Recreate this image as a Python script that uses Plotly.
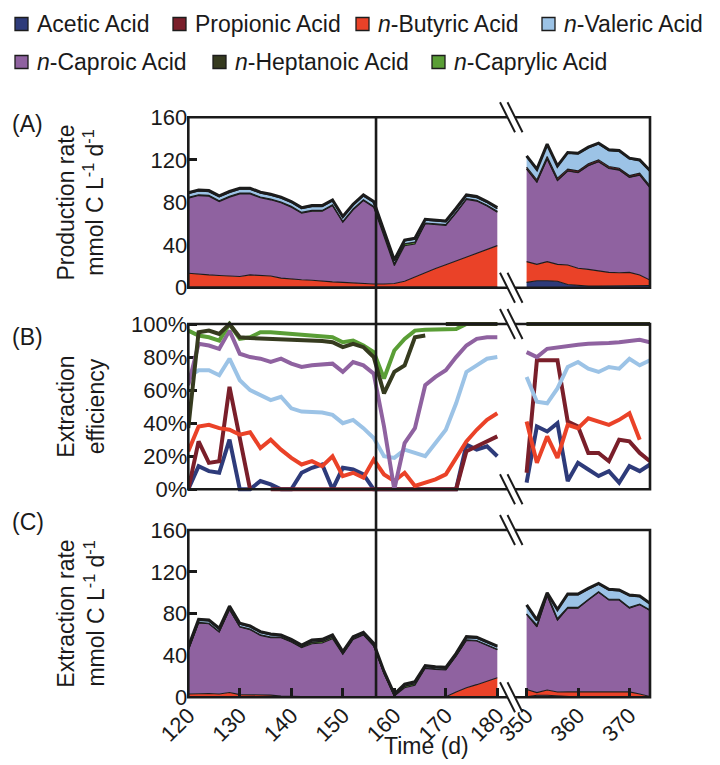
import plotly.graph_objects as go

W, H = 720, 765
def X(px): return px / W
def Y(py): return 1 - py / H

# ---------------- data ----------------
days_left = [120, 122, 124, 126, 128, 130, 132, 134, 136, 138, 140, 142, 144, 146, 148, 150,
             152, 154, 156, 158, 160, 162, 164, 166, 168, 170, 172, 174, 176, 178, 180]
days_right = [350, 352, 354, 356, 358, 360, 362, 364, 366, 368, 370, 372, 374]

# (A) production rate, mmol C L-1 d-1
prodA_acetic_L = [0.5]*31
prodA_propionic_L = [0.3]*31
prodA_butyric_L = [13, 12, 11.5, 11, 10.5, 10, 11.5, 11, 10.5, 8.5, 7.5, 7, 6.5, 5.5, 5, 4.5,
                   4, 3.3, 3, 3, 3.5, 5.5, 9.5, 14, 17.5, 21, 24.5, 28.5, 32, 35, 39]
prodA_caproic_L = [70.5, 74, 73.9, 69.4, 74, 77.6, 76.1, 72.9, 71.5, 70.7, 67.6, 62.4, 64.8, 65.8,
                   71.6, 56.5, 68.6, 78, 72.1, 45.2, 16.7, 33.5, 31.1, 45.5, 41.3, 36.9, 45.3,
                   53.8, 48.8, 41.1, 31.4]
prodA_caprylic_L = [0.5, 0.5, 0.5, 0.5, 0.5, 0.5, 0.5, 0.5, 0.5, 0.5, 0.5, 0.5, 0.5, 0.5, 0.5,
                    0.5, 0.5, 0.5, 0.5, 1.5, 1.5, 1.5, 1.5, 0.5, 0.5, 0.5, 0.5, 0.5, 0.5, 0.5, 0.5]
prodA_valeric_L = [3.5, 3.5, 3.5, 3.5, 3.5, 3.5, 3.5, 3.5, 3.5, 3.5, 3.5, 3.5, 3.5, 3.5, 3.5,
                   3.5, 3.5, 3.5, 3.5, 2.5, 2.5, 2.5, 2.5, 2.5, 2.5, 2.5, 2.5, 2.5, 2.5, 2.5, 2.5]
prodA_heptanoic_L = [1]*31

prodA_acetic_R = [5, 6.5, 6.5, 6, 3, 2, 1.5, 1.5, 1.5, 1.5, 1.5, 2, 2]
prodA_propionic_R = [1.5, 2, 2, 2, 1.5, 1.5, 1.5, 1.5, 1.5, 1.5, 1.5, 1.5, 1.5]
prodA_butyric_R = [19.5, 15.4, 18, 15.9, 18.3, 16.2, 15.7, 14.2, 12.9, 12.6, 12.9, 9.9, 5.2]
prodA_caproic_R = [86.9, 77.1, 96.4, 78.6, 88.2, 89.7, 97.3, 102.5, 97.6, 96.3, 89.1, 93.8, 86.6]
prodA_caprylic_R = [0.3]*13
prodA_valeric_R = [9.8, 9.2, 10.8, 10.8, 14.9, 15.8, 14.9, 14.9, 14.9, 15.8, 15.5, 11.7, 13.6]
prodA_heptanoic_R = [0.8]*13

# (B) extraction efficiency, %
effB_acetic_L = [0, 14, 11, 10, 30, 0, 0, 5, 3, 0, 0, 10, 13, 15, 0, 13, 12, 9, 0, 0, 0, 0, 0,
                 0, 0, 0, 0, 27, 24, 26, 20]
effB_propionic_L = [0, 29, 16, 17, 62, 30, 0, None, 0, 0, 0, 0, 0, 0, 0, 0, 0, 0, 0, 0, 0, 0, 0,
                    0, 0, 0, 0, 23, 26, 29, 32]
effB_butyric_L = [23, 38, 39, 37, 36, 33, 34.5, 25, 30, 24, 19, 15, 17, 14, 20, 8, 10, 7, 18, 9,
                  5, 10, 2, 4, 6, 9, 19, 29, 36, 42, 46]
effB_valeric_L = [68, 72, 72, 69, 79, 66, 60, 57, 54, 56, 49, 47, 47, 46.5, 45, 40, 42, 37, 31,
                  20, 19, 24, 22, 20, 28, 36, 52, 71, 75, 79, 80]
effB_caproic_L = [63, 88, 87, 85, 96, 82, 80, 79, 77, 79, 76, 74, 75, 75.5, 76, 71, 77, 75, 70,
                  38, 0, 28, 37, 63, 68, 72, 80, 87, 91, 92, 92]
effB_heptanoic_L = [37, 95, 96, 94, 100, 92, 91.5, 91.3, 91, 90.7, 90.5, 90, 89.7, 89.7, 89, 86,
                    88, 86, 80, 58, 71, 75, 92, 93, None, 100, 100, 100, 100, 100, 100]
effB_caprylic_L = [96, 93, 92, 90, 100, 91, 92, 95, 95, 94.5, 94, 93.5, 93.5, 93, 92, 89, 90, 87,
                   83, 67, 84, 91, 96, 96.5, 96.5, 96.5, 97, 100, 100, 100, 100]

effB_acetic_R = [4, 38, 35, 40, 5, 16, 12, 8, 11, 4, 14, 11, 15]
effB_propionic_R = [10, 78, 78, 78, 41, 38, 22, 22, 17, 30, 29, 22, 17]
effB_butyric_R = [41, 16, 32, 19, 39, 37, 43, 41, 39, 42, 46, 30, None]
effB_valeric_R = [68, 53, 52, 61, 74, 77, 73, 71, 74, 73, 79, 75, 78]
effB_caproic_R = [83, 80, 85, 86, 87, 87.5, 88, 88, 88.5, 89, 89.5, 90.5, 89]
effB_heptanoic_R = [100]*13
effB_caprylic_R = [100]*13

# (C) extraction rate, mmol C L-1 d-1
extC_acetic_L = [0.1]*31
extC_propionic_L = [0.1]*31
extC_butyric_L = [3, 3.5, 3.5, 3, 4.5, 2.5, 2.5, 2, 2, 1, 0.5, 0.5, 0.5, 0.5, 0.5, 0.5, 0.5, 0.5,
                  0.5, 0.5, 0.3, 0.5, 0.5, 0.5, 0.5, 0.5, 5, 9, 12, 15, 18.5]
extC_caproic_L = [41.7, 67.4, 66.7, 59.3, 79.1, 64.6, 62, 57.1, 54.9, 55.9, 52.3, 46.8, 50.6, 51.3,
                  55.4, 40.5, 54.8, 59, 48.4, 21.8, 0.7, 8.5, 10.8, 27.1, 26.1, 25.5, 34.3, 45.3,
                  41.7, 34.5, 26.8]
extC_caprylic_L = [0.5, 0.5, 0.5, 0.5, 0.5, 0.5, 0.5, 0.5, 0.5, 0.5, 0.5, 0.5, 1.5, 1.5, 1.5,
                   0.5, 0.5, 0.5, 0.5, 0.5, 0.5, 1.5, 1.5, 0.5, 0.5, 0.5, 0.5, 0.5, 0.5, 0.5, 0.5]
extC_valeric_L = [2, 2, 2, 2, 2, 2, 2, 2, 2, 1, 1, 1, 1, 1, 1, 1, 1, 1, 1, 1, 1, 1, 1, 1, 1, 1,
                  1, 2, 2, 2, 2]
extC_heptanoic_L = [1, 1, 1, 1, 1, 1, 1, 1, 1, 1, 1, 1, 1, 1, 1, 1, 1, 1, 1, 1, 0.3, 1, 1, 1, 1,
                    1, 1, 1, 1, 1, 1]

extC_acetic_R = [0.5, 2, 2, 1.5, 0.3, 0.3, 0.2, 0.1, 0.2, 0.1, 0.2, 0.2, 0.3]
extC_propionic_R = [0.2, 1.5, 1.5, 1.5, 0.5, 0.5, 0.3, 0.3, 0.3, 0.4, 0.4, 0.3, 0.3]
extC_butyric_R = [7, 2.5, 5, 3.5, 5, 5, 5, 4.5, 4.5, 4.5, 5, 3, 0.5]
extC_caproic_R = [71.7, 62.9, 90, 68.7, 79.9, 79.9, 87.9, 95.8, 88.4, 88.4, 80.1, 85.4, 82.1]
extC_caprylic_R = [0.3]*13
extC_valeric_R = [7.8, 4, 0.4, 7.7, 12, 12, 9.7, 7.2, 8.8, 8.1, 11, 6.9, 5.6]
extC_heptanoic_R = [0.8]*13

acid_names = ["Acetic Acid", "Propionic Acid", "<i>n</i>-Butyric Acid", "<i>n</i>-Valeric Acid",
              "<i>n</i>-Caproic Acid", "<i>n</i>-Heptanoic Acid", "<i>n</i>-Caprylic Acid"]
colors = {"acetic": "#2e3b7a", "propionic": "#7a1f2a", "butyric": "#ea4228",
          "valeric": "#9cc3e6", "caproic": "#8f62a0", "heptanoic": "#363b1f",
          "caprylic": "#5a9e36"}
keys = ["acetic", "propionic", "butyric", "valeric", "caproic", "heptanoic", "caprylic"]
y_tick_values = [0, 40, 80, 120, 160]
pct_tick_values = [0, 20, 40, 60, 80, 100]
pct_tick_text = ["0%", "20%", "40%", "60%", "80%", "100%"]
x_ticks_left = [120, 130, 140, 150, 160, 170, 180]
x_ticks_right = [350, 360, 370]

FONT = "Liberation Sans, Arial, sans-serif"
EDGE = "#1c1c1c"
INK = "#1a1a1a"

fig = go.Figure()

# ---------- stacked areas (A and C) ----------
def add_stack(days, series, xa, ya, group):
    order = ["acetic", "butyric", "caproic", "caprylic", "propionic", "valeric", "heptanoic"]
    for k in order:
        lw = 3 if k == "heptanoic" else 1.1
        fig.add_trace(go.Scatter(
            x=days, y=series[k], xaxis=xa, yaxis=ya, stackgroup=group, mode="lines",
            line=dict(color=EDGE, width=lw), fillcolor=colors[k],
            showlegend=False, hoverinfo="skip"))

add_stack(days_left, dict(acetic=prodA_acetic_L, propionic=prodA_propionic_L,
                          butyric=prodA_butyric_L, caproic=prodA_caproic_L,
                          caprylic=prodA_caprylic_L, valeric=prodA_valeric_L,
                          heptanoic=prodA_heptanoic_L), "x", "y", "AL")
add_stack(days_right, dict(acetic=prodA_acetic_R, propionic=prodA_propionic_R,
                           butyric=prodA_butyric_R, caproic=prodA_caproic_R,
                           caprylic=prodA_caprylic_R, valeric=prodA_valeric_R,
                           heptanoic=prodA_heptanoic_R), "x2", "y2", "AR")
add_stack(days_left, dict(acetic=extC_acetic_L, propionic=extC_propionic_L,
                          butyric=extC_butyric_L, caproic=extC_caproic_L,
                          caprylic=extC_caprylic_L, valeric=extC_valeric_L,
                          heptanoic=extC_heptanoic_L), "x5", "y5", "CL")
add_stack(days_right, dict(acetic=extC_acetic_R, propionic=extC_propionic_R,
                           butyric=extC_butyric_R, caproic=extC_caproic_R,
                           caprylic=extC_caprylic_R, valeric=extC_valeric_R,
                           heptanoic=extC_heptanoic_R), "x6", "y6", "CR")

# ---------- lines (B) ----------
def add_lines(days, series, xa, ya):
    order = ["acetic", "propionic", "butyric", "valeric", "caproic", "caprylic", "heptanoic"]
    for k in order:
        fig.add_trace(go.Scatter(
            x=days, y=series[k], xaxis=xa, yaxis=ya, mode="lines",
            line=dict(color=colors[k], width=4), connectgaps=False,
            showlegend=False, hoverinfo="skip"))

add_lines(days_left, dict(acetic=effB_acetic_L, propionic=effB_propionic_L,
                          butyric=effB_butyric_L, valeric=effB_valeric_L,
                          caproic=effB_caproic_L, heptanoic=effB_heptanoic_L,
                          caprylic=effB_caprylic_L), "x3", "y3")
add_lines(days_right, dict(acetic=effB_acetic_R, propionic=effB_propionic_R,
                           butyric=effB_butyric_R, valeric=effB_valeric_R,
                           caproic=effB_caproic_R, heptanoic=effB_heptanoic_R,
                           caprylic=effB_caprylic_R), "x4", "y4")

# ---------- axes ----------
LEFT, BRK, RIGHT = 188.3, 512, 650
A_top, A_bot = 117.3, 287.7
B_top, B_bot = 324.0, 489.3
C_top, C_bot = 530.0, 697.3
b_pad = (B_bot - B_top) * 0.02

tickfont = dict(family=FONT, size=22, color=INK)
common_x = dict(showgrid=False, zeroline=False, showline=False, automargin=False)
hidden_x = dict(common_x, showticklabels=False, ticks="")
ytick_style = dict(ticks="inside", ticklen=9, tickwidth=2.5, tickcolor=INK, tickfont=tickfont,
                   showgrid=False, zeroline=False, showline=False, layer="below traces",
                   automargin=False)
xtick_style = dict(common_x, ticks="inside", ticklen=9, tickwidth=2.5, tickcolor=INK,
                   tickangle=-45, tickfont=tickfont, layer="above traces")

layout = dict(
    template="none",
    width=W, height=H, margin=dict(l=0, r=0, t=0, b=0, pad=0), autosize=False,
    plot_bgcolor="white", paper_bgcolor="white", showlegend=False,
    font=dict(family=FONT, color=INK),
    xaxis=dict(hidden_x, domain=[X(LEFT), X(BRK)], range=[120, 182.85], anchor="y"),
    xaxis2=dict(hidden_x, domain=[X(BRK), X(RIGHT)], range=[347.16, 374], anchor="y2"),
    xaxis3=dict(hidden_x, domain=[X(LEFT), X(BRK)], range=[120, 182.85], anchor="y3"),
    xaxis4=dict(hidden_x, domain=[X(BRK), X(RIGHT)], range=[347.16, 374], anchor="y4"),
    xaxis5=dict(xtick_style, domain=[X(LEFT), X(BRK)], range=[120, 182.85], anchor="y5",
                tickvals=x_ticks_left),
    xaxis6=dict(xtick_style, domain=[X(BRK), X(RIGHT)], range=[347.16, 374], anchor="y6",
                tickvals=x_ticks_right),
    yaxis=dict(ytick_style, domain=[Y(A_bot), Y(A_top)], range=[0, 160],
               tickvals=y_tick_values, anchor="x"),
    yaxis2=dict(domain=[Y(A_bot), Y(A_top)], range=[0, 160], visible=False, anchor="x2"),
    yaxis3=dict(ytick_style, domain=[Y(B_bot + b_pad), Y(B_top - b_pad)], range=[-2, 102],
                tickvals=pct_tick_values, ticktext=pct_tick_text, anchor="x3"),
    yaxis4=dict(domain=[Y(B_bot + b_pad), Y(B_top - b_pad)], range=[-2, 102], visible=False,
                anchor="x4"),
    yaxis5=dict(ytick_style, domain=[Y(C_bot), Y(C_top)], range=[0, 160],
                tickvals=y_tick_values, anchor="x5"),
    yaxis6=dict(domain=[Y(C_bot), Y(C_top)], range=[0, 160], visible=False, anchor="x6"),
)
fig.update_layout(**layout)

# ---------- shapes: frames, break marks, vertical line, legend keys ----------
shapes = []
for top, bot in [(A_top, A_bot), (B_top, B_bot), (C_top, C_bot)]:
    shapes.append(dict(type="rect", xref="paper", yref="paper", x0=X(LEFT), x1=X(RIGHT),
                       y0=Y(bot), y1=Y(top), line=dict(color=INK, width=2.6),
                       layer="above"))
for top, bot in [(A_top, A_bot), (B_top, B_bot), (C_top, C_bot)]:
    for cy in (top, bot):
        xa, xb = 500.0, 507.5
        path = "M {},{} L {},{} L {},{} L {},{} Z".format(
            X(xa), Y(cy - 15), X(xb), Y(cy - 15), X(xb + 15), Y(cy + 15), X(xa + 15), Y(cy + 15))
        shapes.append(dict(type="path", xref="paper", yref="paper", path=path,
                           fillcolor="white", line=dict(width=0), layer="above"))
        for x0 in (xa, xb):
            shapes.append(dict(type="line", xref="paper", yref="paper",
                               x0=X(x0), y0=Y(cy - 15), x1=X(x0 + 15), y1=Y(cy + 15),
                               line=dict(color=INK, width=2), layer="above"))
shapes.append(dict(type="line", xref="x", yref="paper", x0=156.45, x1=156.45,
                   y0=Y(C_bot), y1=Y(A_top), line=dict(color=INK, width=2.6),
                   layer="above"))

# legend (two rows) drawn as key squares + text
legend_rows = [(24, [(0, 15), (1, 173), (2, 356), (3, 542)]),
               (62, [(4, 15), (5, 213), (6, 432)])]
ann = []
for cy, items in legend_rows:
    for idx, sx in items:
        k = keys[idx]
        shapes.append(dict(type="rect", xref="paper", yref="paper",
                           x0=X(sx), x1=X(sx + 13), y0=Y(cy + 6.5), y1=Y(cy - 6.5),
                           fillcolor=colors[k], line=dict(color=EDGE, width=1.3),
                           layer="above"))
        ann.append(dict(text=acid_names[idx], x=X(sx + 20), y=Y(cy), xref="paper",
                        yref="paper", xanchor="left", yanchor="middle", showarrow=False,
                        font=dict(family=FONT, size=23, color=INK)))
fig.update_layout(shapes=shapes)

# ---------- annotations ----------
for lab, py in [("(A)", 124), ("(B)", 337), ("(C)", 522)]:
    ann.append(dict(text=lab, x=X(10), y=Y(py), xref="paper", yref="paper",
                    xanchor="left", yanchor="middle", showarrow=False,
                    font=dict(family=FONT, size=23, color=INK)))
ytitles = [("Production rate<br>mmol C L<sup>-1</sup> d<sup>-1</sup>", (A_top + A_bot) / 2),
           ("Extraction<br>efficiency", (B_top + B_bot) / 2),
           ("Extraction rate<br>mmol C L<sup>-1</sup> d<sup>-1</sup>", (C_top + C_bot) / 2)]
for txt, py in ytitles:
    ann.append(dict(text=txt, x=X(81), y=Y(py), xref="paper", yref="paper",
                    xanchor="center", yanchor="middle", showarrow=False, textangle=-90,
                    font=dict(family=FONT, size=23, color=INK)))
ann.append(dict(text="Time (d)", x=X(426), y=Y(746), xref="paper", yref="paper",
                xanchor="center", yanchor="middle", showarrow=False,
                font=dict(family=FONT, size=23, color=INK)))
fig.update_layout(annotations=ann)

fig.write_html("out.html")
